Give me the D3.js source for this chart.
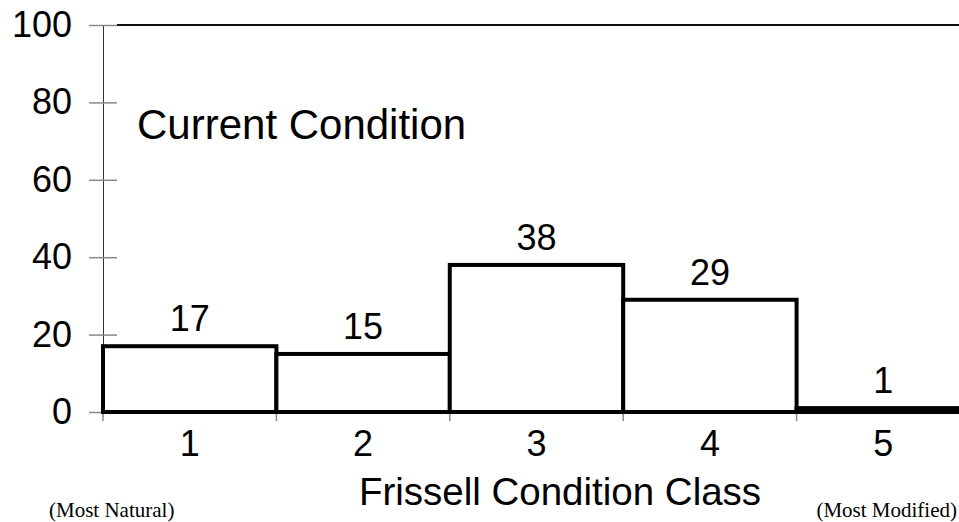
<!DOCTYPE html>
<html>
<head>
<meta charset="utf-8">
<script src="https://cdn.jsdelivr.net/npm/d3@7"></script>
<style>
  body { margin: 0; background: #fff; }
  svg { display: block; }
</style>
</head>
<body>
<svg id="chart" width="959" height="522"></svg>
<script>
// data
const classes = ["1", "2", "3", "4", "5"]
const percents = [17, 15, 38, 29, 1]
const yTicks = [0, 20, 40, 60, 80, 100]

const svg = d3.select("#chart")

// scales (right edge of the chart runs past the window)
const xScale = d3.scaleBand().domain(classes).range([103, 970]).padding(0)
const yScale = d3.scaleLinear().domain([0, 100]).range([412, 25])

// top border line
svg.append("line")
    .attr("x1", 117).attr("x2", 959)
    .attr("y1", yScale(100)).attr("y2", yScale(100))
    .attr("stroke", "#111").attr("stroke-width", 2)

// y axis
const yAxis = d3.axisLeft(yScale).tickValues(yTicks).tickSize(14).tickPadding(17)
const gy = svg.append("g")
    .attr("transform", "translate(103,0)")
    .call(yAxis)
gy.select(".domain").attr("stroke", "#333").attr("stroke-width", 1)
gy.selectAll(".tick line").attr("stroke", "#888").attr("stroke-width", 1.5)
    .attr("x2", 14).attr("x1", -14)
gy.selectAll(".tick text")
    .attr("font-family", "Liberation Sans, Arial, sans-serif")
    .attr("font-size", 36).attr("fill", "#000")

// x axis ticks at band edges
const edges = classes.map(c => xScale(c))
svg.selectAll(".xtick")
    .data(edges)
    .join("line")
    .attr("class", "xtick")
    .attr("x1", d => d).attr("x2", d => d)
    .attr("y1", 412).attr("y2", 421)
    .attr("stroke", "#888").attr("stroke-width", 1.5)

svg.selectAll(".xlabel")
    .data(classes)
    .join("text")
    .attr("class", "xlabel")
    .attr("x", d => xScale(d) + xScale.bandwidth() / 2)
    .attr("y", 456)
    .attr("text-anchor", "middle")
    .attr("font-family", "Liberation Sans, Arial, sans-serif")
    .attr("font-size", 36)
    .text(d => d)

// bars
svg.selectAll(".bar")
    .data(percents)
    .join("rect")
    .attr("class", "bar")
    .attr("x", (d, i) => xScale(classes[i]))
    .attr("y", d => yScale(d))
    .attr("width", xScale.bandwidth())
    .attr("height", d => yScale(0) - yScale(d))
    .attr("fill", "#fff")
    .attr("stroke", "#000")
    .attr("stroke-width", 4)

// value labels
svg.selectAll(".vlabel")
    .data(percents)
    .join("text")
    .attr("class", "vlabel")
    .attr("x", (d, i) => xScale(classes[i]) + xScale.bandwidth() / 2)
    .attr("y", d => yScale(d) - 15)
    .attr("text-anchor", "middle")
    .attr("font-family", "Liberation Sans, Arial, sans-serif")
    .attr("font-size", 36)
    .text(d => d)

// titles
svg.append("text")
    .attr("x", 137).attr("y", 139)
    .attr("font-family", "Liberation Sans, Arial, sans-serif")
    .attr("font-size", 42)
    .text("Current Condition")

svg.append("text")
    .attr("x", 560).attr("y", 505)
    .attr("text-anchor", "middle")
    .attr("font-family", "Liberation Sans, Arial, sans-serif")
    .attr("font-size", 38.5)
    .text("Frissell Condition Class")

svg.append("text")
    .attr("x", 49).attr("y", 517)
    .attr("font-family", "Liberation Serif, Times New Roman, serif")
    .attr("font-size", 21)
    .text("(Most Natural)")

svg.append("text")
    .attr("x", 957).attr("y", 517)
    .attr("text-anchor", "end")
    .attr("font-family", "Liberation Serif, Times New Roman, serif")
    .attr("font-size", 21)
    .text("(Most Modified)")
</script>
</body>
</html>
